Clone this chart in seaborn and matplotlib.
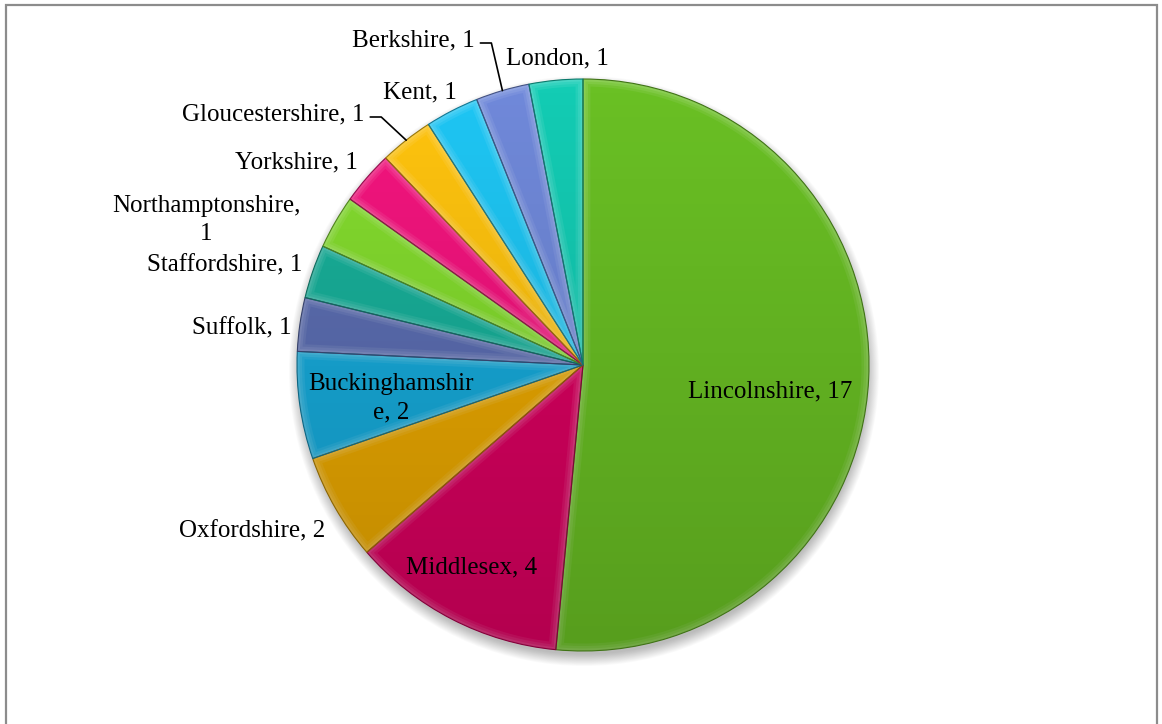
import textwrap
import numpy as np
import matplotlib
matplotlib.use("Agg")
import matplotlib.pyplot as plt
import matplotlib.colors as mcolors
from matplotlib.patches import Polygon, Circle, Rectangle, Wedge
import seaborn as sns

# Number of entries per county
counties = ["Lincolnshire", "Middlesex", "Oxfordshire", "Buckinghamshire", "Suffolk",
            "Staffordshire", "Northamptonshire", "Yorkshire", "Gloucestershire", "Kent",
            "Berkshire", "London"]
counts = [17, 4, 2, 2, 1, 1, 1, 1, 1, 1, 1, 1]
slice_colors = ["#6AC024", "#DA0060", "#EAA800", "#17AADA", "#5C6EB2", "#18B09A",
                "#84DC2E", "#F4147E", "#FFC40E", "#1EC6F4", "#7089DA", "#13CCB4"]

# Canvas geometry (pixels)
W, H = 1162, 724
CX, CY, R = 583, H - 365, 286

# Label placement: x centre, baseline of last line (from top), wrap width, leader line
label_layout = {
    "Lincolnshire":     (770, 397, None, False),
    "Middlesex":        (472, 573, None, False),
    "Oxfordshire":      (252, 537, None, False),
    "Buckinghamshire":  (391, 418, 14, False),
    "Suffolk":          (242, 334, None, False),
    "Staffordshire":    (225, 271, None, False),
    "Northamptonshire": (206, 240, 17, False),
    "Yorkshire":        (296, 168, None, False),
    "Gloucestershire":  (273, 120, None, True),
    "Kent":             (420, 98, None, False),
    "Berkshire":        (413, 46, None, True),
    "London":           (557, 64, None, False),
}

sns.set_theme(style="white")
plt.rcParams["font.family"] = ["Liberation Serif", "DejaVu Serif"]

fig = plt.figure(figsize=(W / 100, H / 100), dpi=100)
ax = fig.add_axes([0, 0, 1, 1])


def shade(color, amount):
    """Blend towards white (amount > 0) or black (amount < 0)."""
    rgb = np.array(mcolors.to_rgb(color))
    if amount >= 0:
        return tuple(rgb + (1 - rgb) * amount)
    return tuple(rgb * (1 + amount))


# soft drop shadow under the pie
for k in range(14):
    ax.add_patch(Circle((CX + 1, CY - 6), R + 9 - k * 0.9, color="black",
                        alpha=0.018, lw=0, zorder=0))

wedges, _ = ax.pie(counts, colors=slice_colors, startangle=90, counterclock=False,
                   center=(CX, CY), radius=R, frame=True,
                   wedgeprops=dict(linewidth=0, zorder=1))


def inset_points(t1, t2, d, r):
    span = np.radians(t2 - t1)
    mid = np.radians((t1 + t2) / 2)
    apex_r = d / np.sin(span / 2)
    apex = (CX + apex_r * np.cos(mid), CY + apex_r * np.sin(mid))
    delta = np.arcsin(d / (r - d))
    ang = np.linspace(np.radians(t1) + delta, np.radians(t2) - delta, 80)
    arc = np.column_stack([CX + (r - d) * np.cos(ang), CY + (r - d) * np.sin(ang)])
    return np.vstack([apex, arc])


# bevelled look: graded rim bands stepping in to the base colour
bevel_steps = [(2.5, 0.14), (5.0, 0.07), (7.5, 0.0)]
for w, col in zip(wedges, slice_colors):
    w.set_facecolor(shade(col, 0.22))
    for d, amt in bevel_steps:
        ax.add_patch(Polygon(inset_points(w.theta1, w.theta2, d, R), closed=True,
                             fc=shade(col, amt), ec="none", zorder=2))

# top-to-bottom darkening across the pie
grad = np.zeros((256, 1, 4))
grad[..., 3] = np.linspace(0.0, 0.18, 256)[:, None]
im = ax.imshow(grad, extent=[CX - R, CX + R, CY - R, CY + R], origin="upper",
               interpolation="bilinear", zorder=3)
im.set_clip_path(Circle((CX, CY), R, transform=ax.transData))

for w, col in zip(wedges, slice_colors):
    ax.add_patch(Wedge((CX, CY), R, w.theta1, w.theta2, fc="none",
                       ec=shade(col, -0.4), lw=0.8, zorder=4))

# data labels
texts = {}
for name, val in zip(counties, counts):
    x, base, wrap, _ = label_layout[name]
    s = f"{name}, {val}"
    if wrap:
        s = textwrap.fill(s, width=wrap)
    texts[name] = ax.text(x, H - base, s, ha="center", va="baseline", fontsize=18,
                          color="black", multialignment="center", linespacing=1.35,
                          zorder=6)

ax.set_xlim(0, W)
ax.set_ylim(0, H)
ax.set_aspect("auto")
ax.axis("off")

# leader lines from labels to their slices
fig.canvas.draw()
inv = ax.transData.inverted()
for w, name in zip(wedges, counties):
    x, base, _, leader = label_layout[name]
    if not leader:
        continue
    bb = texts[name].get_window_extent().transformed(inv)
    mid = np.radians((w.theta1 + w.theta2) / 2)
    ly = H - base + 3
    xs = [bb.x1 + 6, bb.x1 + 17, CX + R * np.cos(mid)]
    ys = [ly, ly, CY + R * np.sin(mid)]
    ax.plot(xs, ys, color="black", lw=1.2, zorder=5)

# chart border
ax.add_patch(Rectangle((5.5, -20), W - 11, H - 4.5 + 20, fill=False,
                       ec="#8C8C8C", lw=1.6, zorder=7, clip_on=False))

fig.savefig("out.png", dpi=100)
